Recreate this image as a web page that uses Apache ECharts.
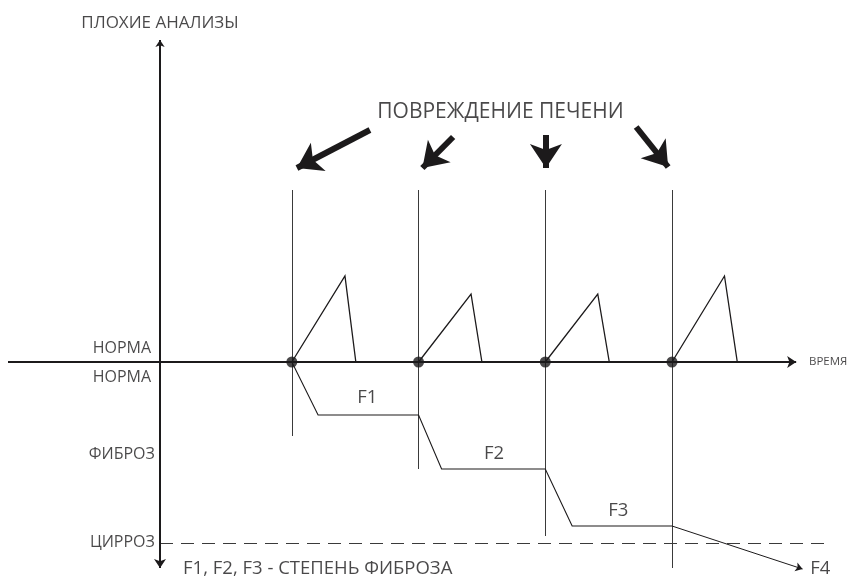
<!DOCTYPE html>
<html><head><meta charset="utf-8">
<script src="https://cdn.jsdelivr.net/npm/echarts@6/dist/echarts.min.js"></script>
<style>html,body{margin:0;padding:0;background:#fff}#c{width:848px;height:579px}</style>
</head><body><div id="c"></div>
<script>
// ---- data (time units on x, condition units on y; 0 = НОРМА) ----
const injuryTimes = [10.3, 20.2, 30.1, 40.0];
const peakTimes = [14.45, 24.3, 34.2, 44.1];
const peakValues = [8.6, 6.8, 6.8, 8.6];
const recoveryTimes = [15.3, 25.15, 35.1, 45.1];
const eventLineTop = 17.2;
const eventLineBottoms = [-7.4, -10.7, -17.4, -20.6];
const fibrosisTimes = [10.3, 12.35, 20.2, 22.0, 30.1, 32.2, 40.0];
const fibrosisValues = [0, -5.3, -5.3, -10.7, -10.7, -16.4, -16.4];
const f4Point = [50.2, -20.7];
const cirrhosisLevel = -18.1;
const cirrhosisEnd = 52.3;
const stageNames = ['F1', 'F2', 'F3', 'F4'];
const stageTimes = [16.2, 26.1, 35.8, 50.8];
const stageValues = [-3.6, -9.2, -14.9, -20.7];
const levelNames = ['НОРМА', 'НОРМА', 'ФИБРОЗ', 'ЦИРРОЗ'];
const levelValues = [1.4, -1.5, -9.2, -18.0];
const injuryArrowStarts = [[16.4, 23.2], [22.9, 22.5], [30.15, 22.7], [37.2, 23.5]];
const injuryArrowEnds = [[10.7, 19.4], [20.5, 19.4], [30.15, 19.4], [39.7, 19.5]];
const xAxisRange = [-11.875, 49.7];
const yAxisRange = [-20.6, 32.2];
const titleY = 'ПЛОХИЕ АНАЛИЗЫ';
const titleX = 'ВРЕМЯ';
const injuryTitle = 'ПОВРЕЖДЕНИЕ ПЕЧЕНИ';
const legendNote = 'F1, F2, F3 - СТЕПЕНЬ ФИБРОЗА';

// ---- styles ----
const INK = '#1c1a1b';
const FONT = 'Open Sans';

const chart = echarts.init(document.getElementById('c'), null, {renderer: 'canvas'});

const textItems = [];
function addText(x, y, text, lab) {
  textItems.push({value: [x, y], name: text, label: Object.assign({
    show: true, formatter: text, color: INK, fontFamily: FONT, fontSize: 16
  }, lab)});
}
addText(0, 33.9, titleY, {position: 'inside', align: 'center', verticalAlign: 'middle', fontSize: 17});
addText(xAxisRange[1] + 1.0, 0, titleX, {position: 'inside', align: 'left', verticalAlign: 'middle', fontSize: 11.5});
addText(26.6, 25.0, injuryTitle, {position: 'inside', align: 'center', verticalAlign: 'middle', fontSize: 21});
addText(1.8, -20.7, legendNote, {position: 'inside', align: 'left', verticalAlign: 'middle', fontSize: 18.5});
levelNames.forEach((n, i) => addText(i < 2 ? -0.7 : -0.4, levelValues[i], n, {position: 'inside', align: 'right', verticalAlign: 'middle', fontSize: 16}));
stageNames.forEach((n, i) => addText(stageTimes[i], stageValues[i], n, {position: 'inside', align: i === 3 ? 'left' : 'center', verticalAlign: 'middle', fontSize: 18.5}));

const spikes = injuryTimes.map((t, i) => ({coords: [[t, 0], [peakTimes[i], peakValues[i]], [recoveryTimes[i], 0]]}));
const eventLines = injuryTimes.map((t, i) => ({coords: [[t, eventLineTop], [t, eventLineBottoms[i]]]}));
const fibrosisPath = [{coords: fibrosisTimes.map((t, i) => [t, fibrosisValues[i]])}];
const injuryArrows = injuryArrowStarts.map((s, i) => ({coords: [s, injuryArrowEnds[i]]}));

chart.setOption({
  animation: false,
  backgroundColor: '#fff',
  grid: {left: 0, right: 0, top: 0, bottom: 0},
  xAxis: {type: 'value', min: -12.5, max: 53.75, show: false},
  yAxis: {type: 'value', min: -21.7, max: 36.2, show: false},
  series: [
    {type: 'lines', coordinateSystem: 'cartesian2d', polyline: false, z: 2,
     lineStyle: {color: '#3a3a3a', width: 1, opacity: 1}, symbol: 'none', data: eventLines},
    {type: 'lines', coordinateSystem: 'cartesian2d', polyline: false, z: 2,
     lineStyle: {color: '#3a3a3a', width: 1, type: [13, 8], opacity: 1}, symbol: 'none',
     data: [{coords: [[0, cirrhosisLevel], [cirrhosisEnd, cirrhosisLevel]]}]},
    {type: 'lines', coordinateSystem: 'cartesian2d', polyline: true, z: 3,
     lineStyle: {color: INK, width: 1.3, opacity: 1}, data: spikes},
    {type: 'lines', coordinateSystem: 'cartesian2d', polyline: true, z: 3,
     lineStyle: {color: INK, width: 1.1, opacity: 1}, data: fibrosisPath},
    {type: 'lines', coordinateSystem: 'cartesian2d', z: 3,
     lineStyle: {color: INK, width: 1, opacity: 1}, symbol: ['none', 'arrow'], symbolSize: [6, 7],
     data: [{coords: [[fibrosisTimes[fibrosisTimes.length - 1], fibrosisValues[fibrosisValues.length - 1]], f4Point]}]},
    {type: 'lines', coordinateSystem: 'cartesian2d', z: 4,
     lineStyle: {color: INK, width: 2, opacity: 1}, symbol: ['none', 'arrow'], symbolSize: [7, 9],
     data: [{coords: [[xAxisRange[0], 0], [xAxisRange[1], 0]]}]},
    {type: 'lines', coordinateSystem: 'cartesian2d', z: 4,
     lineStyle: {color: INK, width: 2, opacity: 1}, symbol: ['arrow', 'arrow'], symbolSize: [7, 9],
     data: [{coords: [[0, yAxisRange[1]], [0, yAxisRange[0]]]}]},
    {type: 'lines', coordinateSystem: 'cartesian2d', z: 4,
     lineStyle: {color: INK, width: 6, opacity: 1}, symbol: ['none', 'arrow'], symbolSize: [22, 24],
     data: injuryArrows},
    {type: 'scatter', z: 5, symbol: 'circle', symbolSize: 11, itemStyle: {color: INK},
     data: injuryTimes.map(t => [t, 0])},
    {type: 'scatter', z: 6, symbolSize: 0, silent: true, data: textItems}
  ]
});
</script></body></html>
